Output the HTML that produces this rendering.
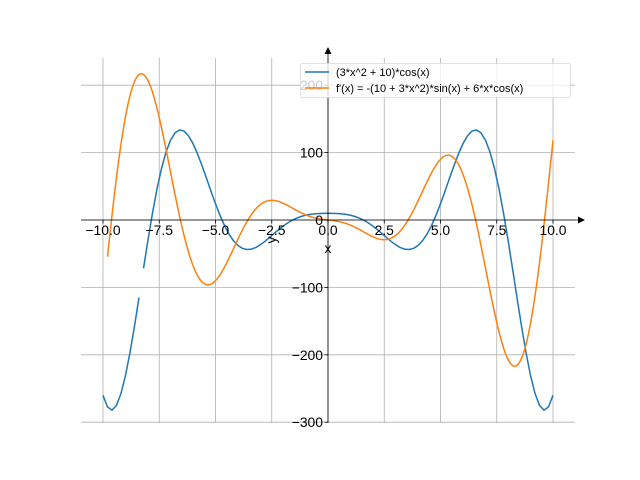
<!DOCTYPE html>
<html><head><meta charset="utf-8"><style>
body{margin:0;background:#fff}
svg{display:block;font-family:"Liberation Sans","DejaVu Sans",sans-serif}
</style></head><body>
<svg id="s" width="640" height="480" viewBox="0 0 640 480" xmlns="http://www.w3.org/2000/svg">
<g id="grid" stroke="#b0b0b0" stroke-width="0.8"></g>
<g id="curves" fill="none" stroke-width="1.5"></g>
<g stroke="#000" stroke-width="0.8">
<line x1="81" y1="220" x2="582" y2="220"/>
<line x1="328" y1="423" x2="328" y2="51"/>
</g>
<path d="M585,220 L578,216.5 L578,223.5 Z" fill="#000"/>
<path d="M328,47 L324.5,54 L331.5,54 Z" fill="#000"/>
<g id="ticks" stroke="#000" stroke-width="0.8"></g>
<g id="labels" font-size="13.9" fill="#000"></g>
<text x="328" y="253" font-size="13.9" text-anchor="middle">x</text>
<text transform="translate(276,240) rotate(-90)" font-size="13.9" text-anchor="middle">y</text>
<rect x="300.5" y="63.5" width="270" height="34" fill="#fff" fill-opacity="0.8" stroke="#d9d9d9" stroke-width="0.8" rx="2"/>
<line x1="305" y1="72" x2="329" y2="72" stroke="#1f77b4" stroke-width="1.5"/>
<line x1="305" y1="88" x2="329" y2="88" stroke="#ff7f0e" stroke-width="1.5"/>
<text x="336" y="76" font-size="11">(3*x^2 + 10)*cos(x)</text>
<text x="336" y="92" font-size="11">f'(x) = -(10 + 3*x^2)*sin(x) + 6*x*cos(x)</text>
</svg>
<script>
var X=function(x){return 328+22.5*x},Y=function(y){return 220-0.674*y};
var g=document.getElementById('grid'),t=document.getElementById('ticks'),l=document.getElementById('labels'),c=document.getElementById('curves');
var ns='http://www.w3.org/2000/svg';
function el(p,n,a,txt){var e=document.createElementNS(ns,n);for(var k in a)e.setAttribute(k,a[k]);if(txt)e.textContent=txt;p.appendChild(e);}
for(var v=-10;v<=10;v+=2.5){var px=X(v);el(g,'line',{x1:px,y1:58,x2:px,y2:423});el(t,'line',{x1:px,y1:220,x2:px,y2:223.5});
el(l,'text',{x:px,y:235,'text-anchor':'middle'},(v<0?'\u2212':'')+Math.abs(v).toFixed(1));}
for(var v=-300;v<=200;v+=100){var py=Y(v);el(g,'line',{x1:81,y1:py,x2:575,y2:py});el(t,'line',{x1:328,y1:py,x2:324.5,y2:py});
el(l,'text',{x:323,y:py+5,'text-anchor':'end'},(v<0?'\u2212':'')+Math.abs(v));}
function f(x){return (3*x*x+10)*Math.cos(x)}
function d(x){return -(10+3*x*x)*Math.sin(x)+6*x*Math.cos(x)}
var p='';for(var i=0;i<=100;i++){var x=-10+i*0.2;if(x>-8.39&&x<-8.21)continue;p+=(i==0||Math.abs(x+8.2)<0.01?'M':'L')+X(x).toFixed(2)+','+Y(f(x)).toFixed(2);}
el(c,'path',{d:p,stroke:'#1f77b4'});
p='';for(var i=0;i<=396;i++){var x=-9.8+i*0.05;p+=(i?'L':'M')+X(x).toFixed(2)+','+Y(d(x)).toFixed(2);}
el(c,'path',{d:p,stroke:'#ff7f0e'});
</script>
</body></html>
